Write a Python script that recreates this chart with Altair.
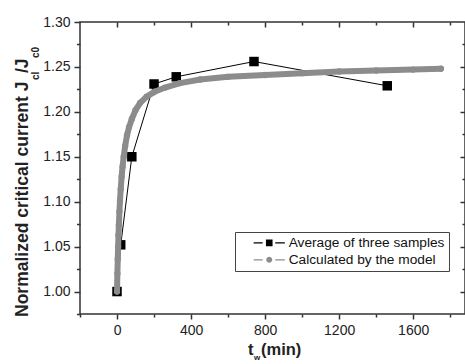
import altair as alt
import pandas as pd

# ---- data ----
t_data = [0, 20, 80, 200, 320, 740, 1460]
jc_data = [1.000, 1.052, 1.150, 1.231, 1.239, 1.256, 1.229]

t_model = [0, 2, 4, 6, 8, 10, 13, 16, 20, 25, 30, 36, 44, 54, 65, 80, 100, 125,
           160, 200, 260, 340, 450, 600, 800, 1000, 1200, 1400, 1600, 1750]
jc_model = [1.000, 1.020, 1.036, 1.050, 1.063, 1.074, 1.089, 1.101, 1.114, 1.128,
            1.139, 1.150, 1.162, 1.174, 1.183, 1.192, 1.202, 1.210, 1.217, 1.222,
            1.227, 1.232, 1.236, 1.239, 1.241, 1.243, 1.245, 1.246, 1.247, 1.248]

series_names = ["Average of three samples", "Calculated by the model"]
series_colors = ["#000000", "#8c8c8c"]

x_ticks_major = [0, 400, 800, 1200, 1600]
x_ticks_minor = [-200, 200, 600, 1000, 1400, 1800]
y_ticks_major = [1.0, 1.05, 1.1, 1.15, 1.2, 1.25, 1.3]
y_ticks_minor = [0.975, 1.025, 1.075, 1.125, 1.175, 1.225, 1.275]

df_data = pd.DataFrame({"t": t_data, "jc": jc_data})
df_model = pd.DataFrame({"t": t_model, "jc": jc_model})
df_leg = pd.DataFrame({"series": series_names})

FONT = "Liberation Sans, Arial, Helvetica, sans-serif"
AX = "#333333"

xs = alt.Scale(domain=[-200, 1880], nice=False, zero=False)
ys = alt.Scale(domain=[0.975, 1.30], nice=False, zero=False)

ax_common = dict(grid=False, domain=False, tickColor=AX, tickWidth=1.5, title=None)
lab = dict(labelFont=FONT, labelFontSize=14, labelColor="#222222", labelPadding=4)

x_bottom_major = alt.Axis(orient="bottom", values=x_ticks_major, format="d", tickSize=5, **lab, **ax_common)
x_bottom_minor = alt.Axis(orient="bottom", values=x_ticks_minor, labels=False, tickSize=3, **ax_common)
y_left_major = alt.Axis(orient="left", values=y_ticks_major, format=".2f", tickSize=6, **lab, **ax_common)
y_left_minor = alt.Axis(orient="left", values=y_ticks_minor, labels=False, tickSize=3.5, **ax_common)
x_top_major = alt.Axis(orient="top", values=x_ticks_major, labels=False, tickSize=5, offset=-5, **ax_common)
x_top_minor = alt.Axis(orient="top", values=x_ticks_minor[1:], labels=False, tickSize=3, offset=-3, **ax_common)
y_right_major = alt.Axis(orient="right", values=y_ticks_major[:-1], labels=False, tickSize=5, offset=-5, **ax_common)
y_right_minor = alt.Axis(orient="right", values=y_ticks_minor[1:], labels=False, tickSize=3, offset=-3, **ax_common)

data_line = alt.Chart(df_data).mark_line(color="#000000", strokeWidth=1).encode(
    x=alt.X("t:Q", scale=xs, axis=x_top_minor),
    y=alt.Y("jc:Q", scale=ys, axis=y_right_minor),
)
data_pts = alt.Chart(df_data).mark_point(shape="square", filled=True, color="#000000", size=90, opacity=1).encode(
    x=alt.X("t:Q", scale=xs, axis=x_top_major),
    y=alt.Y("jc:Q", scale=ys, axis=y_right_major),
)
model_line = alt.Chart(df_model).mark_line(color="#8c8c8c", strokeWidth=6, strokeCap="round", strokeJoin="round").encode(
    x=alt.X("t:Q", scale=xs, axis=x_bottom_major),
    y=alt.Y("jc:Q", scale=ys, axis=y_left_major),
)
model_pts = alt.Chart(df_model).mark_point(shape="circle", filled=True, color="#8c8c8c", size=40, opacity=1).encode(
    x=alt.X("t:Q", scale=xs, axis=x_bottom_minor),
    y=alt.Y("jc:Q", scale=ys, axis=y_left_minor),
)

# legend symbols: dash - marker - dash (units of 6 px, shifted right)
sym_square = ("M1.3,-0.09H2.8V0.09H1.3Z "
              "M3.35,-0.55H4.45V0.55H3.35Z "
              "M4.9,-0.09H6.5V0.09H4.9Z")
sym_circle = ("M1.3,-0.09H2.8V0.09H1.3Z "
              "M3.4,0A0.5,0.5 0 1,0 4.4,0A0.5,0.5 0 1,0 3.4,0Z "
              "M4.9,-0.09H6.5V0.09H4.9Z")

leg = alt.Legend(orient="none", legendX=155, legendY=210, title=None, padding=4,
                 strokeColor="#444444", fillColor="white", symbolSize=144,
                 symbolStrokeWidth=0, symbolOpacity=1, labelOffset=36,
                 labelFont=FONT, labelFontSize=13.7, labelColor="#111",
                 rowPadding=2, labelExpr="datum.label + '\u00a0\u00a0\u00a0'")

legend_layer = alt.Chart(df_leg).mark_point(filled=True, opacity=0).encode(
    color=alt.Color("series:N", scale=alt.Scale(domain=series_names, range=series_colors), legend=leg),
    shape=alt.Shape("series:N", scale=alt.Scale(domain=series_names, range=[sym_square, sym_circle]), legend=leg),
)

one = pd.DataFrame({"k": [0]})


def label(text, x, y, size, angle=0):
    return alt.Chart(one).mark_text(text=text, angle=angle, fontSize=size, fontWeight="bold",
                                    font=FONT, align="left", baseline="alphabetic",
                                    color="#222222").encode(x=alt.value(x), y=alt.value(y))


titles = [
    label("Normalized critical current J", -52, 295, 17.5, 270),
    label("cl", -41, 58, 10, 270),
    label("/J", -52, 51, 17.5, 270),
    label("c0", -41, 36, 10, 270),
    label("t", 168, 333, 16.5),
    label("w", 174, 338, 8),
    label("(min)", 181, 333, 16.5),
]

chart = alt.layer(data_line, data_pts, model_line, model_pts, legend_layer, *titles).properties(
    width=385, height=292,
    autosize=alt.AutoSizeParams(type="none"),
    padding={"left": 80, "top": 22, "right": 0, "bottom": 50},
    background="white",
).configure_view(stroke=AX, strokeWidth=1.5)

chart.save("out.html", embed_options={"renderer": "svg", "actions": False})
